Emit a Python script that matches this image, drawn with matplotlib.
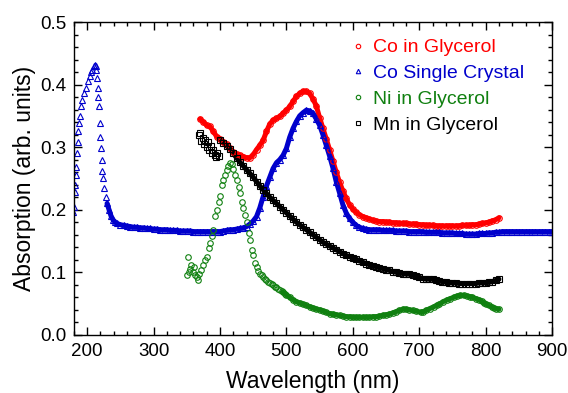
import numpy as np
import matplotlib
matplotlib.use('Agg')
import matplotlib.pyplot as plt
from matplotlib.ticker import MultipleLocator, FormatStrFormatter

plt.rcParams['font.family'] = ['Liberation Sans', 'DejaVu Sans']

# Co single crystal: UV peak part (irregular spacing) then 5 nm grid
co_xtal_uv_wl = [179, 180, 181, 182, 183, 184, 185, 186, 187, 188, 189, 191, 193, 196,
                 198, 201, 204, 206, 208, 210, 212, 213, 214, 215, 216, 217, 218, 219,
                 220, 221, 222, 223, 224, 226, 228, 230, 233, 236, 239, 242]
co_xtal_uv = [0.197, 0.205, 0.229, 0.240, 0.255, 0.269, 0.290, 0.309, 0.325, 0.339,
              0.350, 0.365, 0.375, 0.386, 0.395, 0.405, 0.414, 0.420, 0.424, 0.429,
              0.431, 0.430, 0.424, 0.410, 0.395, 0.380, 0.365, 0.339, 0.317, 0.298,
              0.280, 0.262, 0.250, 0.234, 0.220, 0.210, 0.200, 0.190, 0.184, 0.180]
co_xtal_wl = np.arange(245, 901, 5)
co_xtal = [0.178, 0.176, 0.175, 0.174, 0.173, 0.172, 0.172, 0.171, 0.171, 0.170,  # 245-290
           0.170, 0.169, 0.169, 0.168, 0.168, 0.168, 0.167, 0.167, 0.167, 0.166,  # 295-340
           0.166, 0.166, 0.166, 0.165, 0.165, 0.165, 0.165, 0.165, 0.165, 0.165,  # 345-390
           0.165, 0.165, 0.166, 0.167, 0.168, 0.168, 0.169, 0.170, 0.171, 0.173,  # 395-440
           0.177, 0.182, 0.189, 0.203, 0.221, 0.238, 0.252, 0.266, 0.275, 0.280,  # 445-490
           0.287, 0.298, 0.316, 0.330, 0.341, 0.350, 0.355, 0.359, 0.358, 0.354,  # 495-540
           0.345, 0.335, 0.320, 0.303, 0.286, 0.267, 0.245, 0.227, 0.208, 0.195,  # 545-590
           0.186, 0.180, 0.175, 0.172, 0.170, 0.169, 0.168, 0.168, 0.168, 0.168,  # 595-640
           0.167, 0.167, 0.167, 0.167, 0.166, 0.166, 0.166, 0.166, 0.165, 0.165,  # 645-690
           0.165, 0.165, 0.165, 0.164, 0.164, 0.164, 0.164, 0.164, 0.163, 0.163,  # 695-740
           0.163, 0.163, 0.162, 0.162, 0.162, 0.161, 0.161, 0.161, 0.161, 0.162,  # 745-790
           0.162, 0.162, 0.163, 0.163, 0.164, 0.164, 0.165, 0.165, 0.165, 0.165,  # 795-840
           0.165, 0.165, 0.165, 0.165, 0.165, 0.165, 0.165, 0.165, 0.165, 0.165,  # 845-890
           0.165, 0.165]                                                          # 895-900

# Co in glycerol, 5 nm grid
co_gly_wl = np.arange(370, 821, 5)
co_gly = [0.345, 0.340, 0.335, 0.333, 0.325, 0.317, 0.313, 0.309, 0.305, 0.298,  # 370-415
          0.292, 0.289, 0.287, 0.285, 0.283, 0.283, 0.288, 0.296, 0.303, 0.311,  # 420-465
          0.325, 0.337, 0.343, 0.346, 0.349, 0.354, 0.359, 0.365, 0.373, 0.381,  # 470-515
          0.386, 0.389, 0.389, 0.386, 0.377, 0.366, 0.347, 0.330, 0.313, 0.296,  # 520-565
          0.278, 0.260, 0.244, 0.230, 0.218, 0.208, 0.201, 0.196, 0.192, 0.189,  # 570-615
          0.187, 0.185, 0.183, 0.182, 0.181, 0.181, 0.180, 0.180, 0.179, 0.179,  # 620-665
          0.178, 0.178, 0.178, 0.177, 0.177, 0.177, 0.176, 0.176, 0.175, 0.175,  # 670-715
          0.175, 0.174, 0.174, 0.174, 0.174, 0.174, 0.174, 0.174, 0.174, 0.175,  # 720-765
          0.175, 0.175, 0.176, 0.176, 0.177, 0.178, 0.179, 0.180, 0.182, 0.184,  # 770-815
          0.187]                                                                 # 820

# Ni in glycerol (irregular spacing)
ni_gly_wl = [350, 352, 353, 355, 357, 359, 361, 363, 365, 367, 369, 372, 375, 378, 380,
             383, 385, 388, 390, 393, 395, 398, 400, 403, 405, 408, 410, 412, 415, 418,
             420, 423, 425, 428, 430, 433, 435, 438, 440, 443, 445, 448, 450, 453, 455,
             458, 460, 463, 465, 468, 470, 473, 475, 478, 480, 483, 485, 488, 490, 493,
             495, 498, 500, 505, 510, 515, 520, 525, 530, 535, 540, 545, 550, 555, 560,
             565, 570, 575, 580, 585, 590, 595, 600, 605, 610, 615, 620, 625, 630, 635,
             640, 645, 650, 655, 660, 665, 670, 676, 680, 685, 690, 695, 702, 706, 710,
             716, 722, 726, 730, 736, 742, 747, 752, 757, 762, 767, 772, 776, 780, 785,
             790, 794, 797, 801, 805, 809, 812, 816, 820]
ni_gly = [0.096, 0.125, 0.100, 0.105, 0.112, 0.100, 0.108, 0.095, 0.092, 0.088, 0.098,
          0.104, 0.112, 0.120, 0.125, 0.138, 0.146, 0.158, 0.168, 0.190, 0.200, 0.213,
          0.222, 0.240, 0.248, 0.256, 0.264, 0.270, 0.274, 0.273, 0.265, 0.256, 0.248,
          0.236, 0.226, 0.213, 0.203, 0.192, 0.180, 0.163, 0.152, 0.136, 0.127, 0.115,
          0.109, 0.102, 0.098, 0.095, 0.093, 0.090, 0.088, 0.085, 0.083, 0.081, 0.079,
          0.077, 0.076, 0.074, 0.072, 0.070, 0.068, 0.066, 0.064, 0.060, 0.056, 0.053,
          0.051, 0.049, 0.047, 0.045, 0.043, 0.041, 0.040, 0.038, 0.036, 0.034, 0.033,
          0.032, 0.031, 0.030, 0.029, 0.029, 0.028, 0.028, 0.028, 0.028, 0.028, 0.028,
          0.029, 0.029, 0.030, 0.031, 0.032, 0.033, 0.035, 0.037, 0.039, 0.041, 0.041,
          0.040, 0.039, 0.038, 0.036, 0.037, 0.039, 0.042, 0.045, 0.047, 0.049, 0.053,
          0.056, 0.058, 0.060, 0.062, 0.063, 0.063, 0.062, 0.061, 0.060, 0.058, 0.056,
          0.054, 0.051, 0.049, 0.047, 0.045, 0.043, 0.042, 0.041]

# Mn in glycerol: noisy start, then 5 nm grid
mn_gly_start_wl = [368, 370, 372, 374, 376, 378, 380, 382, 384, 386, 388, 390, 392, 394,
                   396, 398]
mn_gly_start = [0.319, 0.322, 0.310, 0.315, 0.305, 0.312, 0.300, 0.308, 0.296, 0.302,
                0.290, 0.295, 0.287, 0.285, 0.290, 0.286]
mn_gly_wl = np.arange(400, 821, 5)
mn_gly = [0.312, 0.307, 0.302, 0.297, 0.290, 0.283, 0.276, 0.270, 0.264, 0.258,  # 400-445
          0.252, 0.245, 0.238, 0.232, 0.226, 0.220, 0.215, 0.210, 0.205, 0.200,  # 450-495
          0.195, 0.190, 0.185, 0.180, 0.176, 0.172, 0.168, 0.164, 0.160, 0.156,  # 500-545
          0.152, 0.148, 0.145, 0.142, 0.139, 0.136, 0.133, 0.130, 0.127, 0.125,  # 550-595
          0.123, 0.121, 0.118, 0.116, 0.114, 0.112, 0.110, 0.109, 0.107, 0.106,  # 600-645
          0.104, 0.103, 0.101, 0.100, 0.099, 0.098, 0.097, 0.097, 0.096, 0.094,  # 650-695
          0.092, 0.090, 0.089, 0.089, 0.089, 0.088, 0.086, 0.085, 0.084, 0.083,  # 700-745
          0.083, 0.083, 0.082, 0.082, 0.082, 0.082, 0.082, 0.082, 0.083, 0.083,  # 750-795
          0.083, 0.084, 0.085, 0.087, 0.089]                                     # 800-820

RED = '#ff0000'
BLUE = '#0000cc'
GREEN = '#108010'

fig, ax = plt.subplots(figsize=(5.68, 3.93), dpi=100)
fig.subplots_adjust(left=0.130, right=0.972, top=0.944, bottom=0.148)

ms = 4
mew = 0.8
band = 3.6  # the spectra are sampled densely, so markers merge into a band

co_xtal_all_wl = np.concatenate([co_xtal_uv_wl, co_xtal_wl])
co_xtal_all = np.array(co_xtal_uv + co_xtal)
ni_all_wl = np.array(ni_gly_wl)
ni_all = np.array(ni_gly)

# dense-band parts drawn under the markers
ax.plot(co_gly_wl, co_gly, '-', color=RED, lw=band, solid_capstyle='round')
ax.plot(co_xtal_all_wl[35:], co_xtal_all[35:], '-', color=BLUE, lw=band,
        solid_capstyle='round')
ax.plot(ni_all_wl[60:], ni_all[60:], '-', color=GREEN, lw=band, solid_capstyle='round')
ax.plot(mn_gly_wl, mn_gly, '-', color='black', lw=band, solid_capstyle='round')

ax.plot(co_gly_wl, co_gly, 'o', mfc='none', mec=RED, ms=ms, mew=mew,
        label='Co in Glycerol')
ax.plot(co_xtal_all_wl, co_xtal_all, '^', mfc='none', mec=BLUE, ms=ms, mew=mew,
        label='Co Single Crystal')
ax.plot(ni_all_wl, ni_all, 'o', mfc='none', mec=GREEN, ms=ms, mew=mew,
        label='Ni in Glycerol')
ax.plot(mn_gly_start_wl + list(mn_gly_wl), mn_gly_start + mn_gly, 's', mfc='none',
        mec='black', ms=ms, mew=mew, label='Mn in Glycerol')

ax.set_xlim(180, 900)
ax.set_ylim(0, 0.5)
ax.xaxis.set_major_locator(MultipleLocator(100))
ax.xaxis.set_minor_locator(MultipleLocator(20))
ax.yaxis.set_major_locator(MultipleLocator(0.1))
ax.yaxis.set_minor_locator(MultipleLocator(0.02))
ax.yaxis.set_major_formatter(FormatStrFormatter('%.1f'))
ax.tick_params(which='both', direction='in', top=True, right=True, labelsize=13.5)
ax.tick_params(which='major', length=6, width=1)
ax.tick_params(which='minor', length=3, width=1)
ax.tick_params(axis='x', which='major', pad=6)
ax.tick_params(axis='y', which='major', pad=5.5)
for s in ax.spines.values():
  s.set_linewidth(1)

ax.set_xlabel('Wavelength (nm)', fontsize=16.5, labelpad=7)
ax.set_ylabel('Absorption (arb. units)', fontsize=16.5, labelpad=3)

ax.legend(loc='upper left', bbox_to_anchor=(0.553, 0.99), frameon=False, fontsize=14,
          numpoints=1, handlelength=0.6, handletextpad=0.5, labelspacing=0.42,
          markerscale=0.8, labelcolor='markeredgecolor', borderaxespad=0.3)

fig.savefig('out.png', dpi=100)
